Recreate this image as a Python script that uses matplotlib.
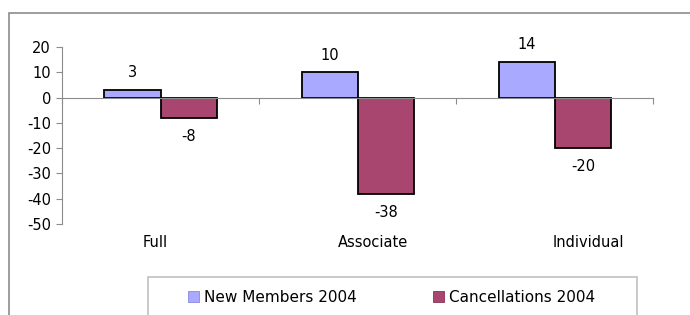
import matplotlib.pyplot as plt
import numpy as np
from matplotlib.patches import Rectangle, Patch
from matplotlib.transforms import blended_transform_factory

categories = ['Full', 'Associate', 'Individual']
new_members = [3, 10, 14]
cancellations = [-8, -38, -20]
series_names = ['New Members 2004', 'Cancellations 2004']
yticks = [20, 10, 0, -10, -20, -30, -40, -50]

blue = '#a9a9ff'
plum = '#a8466f'
grey = '#8c8c8c'

plt.rcParams['font.family'] = ['DejaVu Sans']

fig = plt.figure(figsize=(6.9, 3.15), dpi=100)
ax = fig.add_axes([0.0899, 0.289, 0.857, 0.562])

x = np.arange(len(categories))
w = 0.285
b1 = ax.bar(x - w / 2, new_members, w, color=blue, edgecolor='black', linewidth=1.3)
b2 = ax.bar(x + w / 2, cancellations, w, color=plum, edgecolor='black', linewidth=1.3)

# value labels
for rect, v in zip(b1, new_members):
    ax.annotate(str(v), (rect.get_x() + rect.get_width() / 2, v), xytext=(0, 7),
                textcoords='offset points', ha='center', va='bottom', fontsize=10.5)
for rect, v in zip(b2, cancellations):
    ax.annotate(str(v), (rect.get_x() + rect.get_width() / 2, v), xytext=(0, -8),
                textcoords='offset points', ha='center', va='top', fontsize=10.5)

ax.set_xlim(-0.5, 2.5)
ax.set_ylim(-50, 20)
ax.set_yticks(yticks)
ax.set_yticklabels([str(t) for t in yticks], fontsize=10.5)

# excel style: axis line at zero, category labels low
for s in ['top', 'right']:
    ax.spines[s].set_visible(False)
ax.spines['bottom'].set_position(('data', 0))
ax.spines['bottom'].set_color(grey)
ax.spines['left'].set_color(grey)
ax.set_xticks([-0.5, 0.5, 1.5, 2.5])
ax.set_xticklabels([])
ax.tick_params(axis='x', colors=grey, length=4, direction='out')
ax.tick_params(axis='y', color=grey, length=4, direction='out', labelcolor='black', pad=4)

label_shift = [-0.025, 0.08, 0.17]
trans = blended_transform_factory(ax.transData, ax.transAxes)
for i, name in enumerate(categories):
    ax.text(i + label_shift[i], -0.105, name, transform=trans, ha='center', va='center', fontsize=10.5)

# outer chart frame (runs off the picture)
fig.patches.append(Rectangle((9 / 690, -0.2), 1.2, 1.2 - 13 / 315, transform=fig.transFigure,
                             fill=False, edgecolor=grey, linewidth=1.2))
# legend box
fig.patches.append(Rectangle((148 / 690, -0.2), 489 / 690, 0.2 + (315 - 277) / 315,
                             transform=fig.transFigure, fill=False, edgecolor='#c0c0c0', linewidth=1.2))
handles = [Patch(facecolor=blue, edgecolor='#8888dd', linewidth=0.6, label=series_names[0]),
           Patch(facecolor=plum, edgecolor='#883355', linewidth=0.6, label=series_names[1])]
fig.legend(handles=handles, loc='center', bbox_to_anchor=(0.567, 1 - 297 / 315), ncol=2,
           frameon=False, fontsize=11, handlelength=0.75, handleheight=0.75,
           handletextpad=0.3, columnspacing=5.0, borderpad=0)

fig.savefig('out.png', dpi=100)
